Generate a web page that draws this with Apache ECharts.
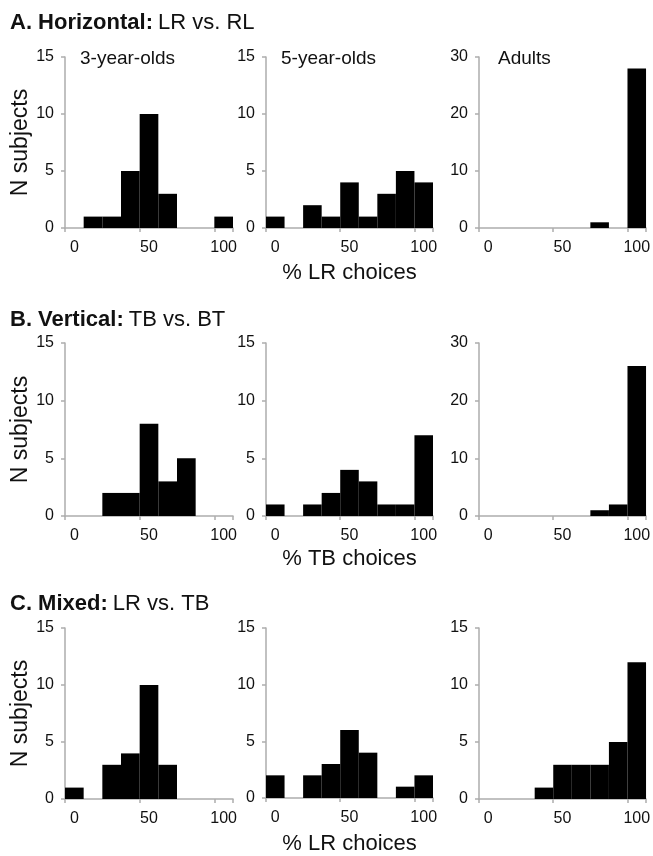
<!DOCTYPE html>
<html>
<head>
<meta charset="utf-8">
<script src="https://cdn.jsdelivr.net/npm/echarts@6/dist/echarts.min.js"></script>
<style>html,body{margin:0;padding:0;background:#fff}#c{width:653px;height:856px}</style>
</head>
<body>
<div id="c"></div>
<script>
// bins: % choices (8 trials -> 12.5% steps)
const bins = ['0','12.5','25','37.5','50','62.5','75','87.5','100'];
const rowTitlesBold = ['A. Horizontal:', 'B. Vertical:', 'C. Mixed:'];
const rowTitlesNormal = ['LR vs. RL', 'TB vs. BT', 'LR vs. TB'];
const xAxisNames = ['% LR choices', '% TB choices', '% LR choices'];
const groupNames = ['3-year-olds', '5-year-olds', 'Adults'];

// Row A: Horizontal
const hor3 = [0, 1, 1, 5, 10, 3, 0, 0, 1];
const hor5 = [1, 0, 2, 1, 4, 1, 3, 5, 4];
const horAdult = [0, 0, 0, 0, 0, 0, 1, 0, 28];
// Row B: Vertical
const ver3 = [0, 0, 2, 2, 8, 3, 5, 0, 0];
const ver5 = [1, 0, 1, 2, 4, 3, 1, 1, 7];
const verAdult = [0, 0, 0, 0, 0, 0, 1, 2, 26];
// Row C: Mixed
const mix3 = [1, 0, 3, 4, 10, 3, 0, 0, 0];
const mix5 = [2, 0, 2, 3, 6, 4, 0, 1, 2];
const mixAdult = [0, 0, 0, 1, 3, 3, 3, 5, 12];

const yMaxes = [[15, 15, 30], [15, 15, 30], [15, 15, 15]];
const yIntervals = [[5, 5, 10], [5, 5, 10], [5, 5, 5]];
const data = [[hor3, hor5, horAdult], [ver3, ver5, verAdult], [mix3, mix5, mixAdult]];

const FONT = 'Liberation Sans, Arial, sans-serif';
const AX = '#adadad';
const TXT = '#111';

const colLeft = [65, 266, 479];
const colWidth = [168, 167, 169];
const rowTop = [57, 343, 628];
const rowHeight = [171, 173, 171];
const xNameGap = [34, 32, 35];
const titleOffset = [45, 34, 35];

const grids = [], xAxes = [], yAxes = [], series = [], titles = [];
let k = 0;
for (let r = 0; r < 3; r++) {
  titles.push({
    left: 10, top: rowTop[r] - titleOffset[r], padding: 0,
    text: '{b|' + rowTitlesBold[r] + '} {n|' + rowTitlesNormal[r] + '}',
    textStyle: { rich: {
      b: { fontFamily: FONT, fontWeight: 'bold', fontSize: 22, color: TXT },
      n: { fontFamily: FONT, fontWeight: 'normal', fontSize: 22, color: TXT }
    } }
  });
  for (let c = 0; c < 3; c++) {
    grids.push({ left: colLeft[c], top: rowTop[r], width: colWidth[c], height: rowHeight[r] });
    xAxes.push({
      type: 'category', gridIndex: k, data: bins, boundaryGap: true,
      axisLine: { lineStyle: { color: AX, width: 1.5 } },
      axisTick: { show: true, length: 4, lineStyle: { color: AX, width: 1.5 } },
      axisLabel: { interval: 3, margin: 12, fontFamily: FONT, fontSize: 16, color: TXT },
      name: c === 1 ? xAxisNames[r] : '', nameLocation: 'middle', nameGap: xNameGap[r],
      nameTextStyle: { fontFamily: FONT, fontSize: 22, color: TXT }
    });
    yAxes.push({
      type: 'value', gridIndex: k, min: 0, max: yMaxes[r][c], interval: yIntervals[r][c],
      splitLine: { show: false },
      axisLine: { show: true, lineStyle: { color: AX, width: 1.5 } },
      axisTick: { show: true, length: 4, lineStyle: { color: AX, width: 1.5 } },
      axisLabel: { margin: 11, fontFamily: FONT, fontSize: 16, color: TXT },
      name: c === 0 ? 'N subjects' : '', nameLocation: 'middle', nameGap: 33,
      nameTextStyle: { fontFamily: FONT, fontSize: 23, color: TXT }
    });
    series.push({
      type: 'bar', xAxisIndex: k, yAxisIndex: k, data: data[r][c],
      barWidth: '100%', barCategoryGap: '0%',
      itemStyle: { color: '#000' }, silent: true
    });
    if (r === 0) {
      titles.push({
        left: colLeft[c] + (c === 2 ? 19 : 15), top: rowTop[r] - 8, padding: 0,
        text: groupNames[c],
        textStyle: { fontFamily: FONT, fontWeight: 'normal', fontSize: 19, color: TXT }
      });
    }
    k++;
  }
}

const chart = echarts.init(document.getElementById('c'), null, { renderer: 'canvas' });
chart.setOption({
  animation: false,
  backgroundColor: '#fff',
  title: titles,
  grid: grids,
  xAxis: xAxes,
  yAxis: yAxes,
  series: series
});
</script>
</body>
</html>
